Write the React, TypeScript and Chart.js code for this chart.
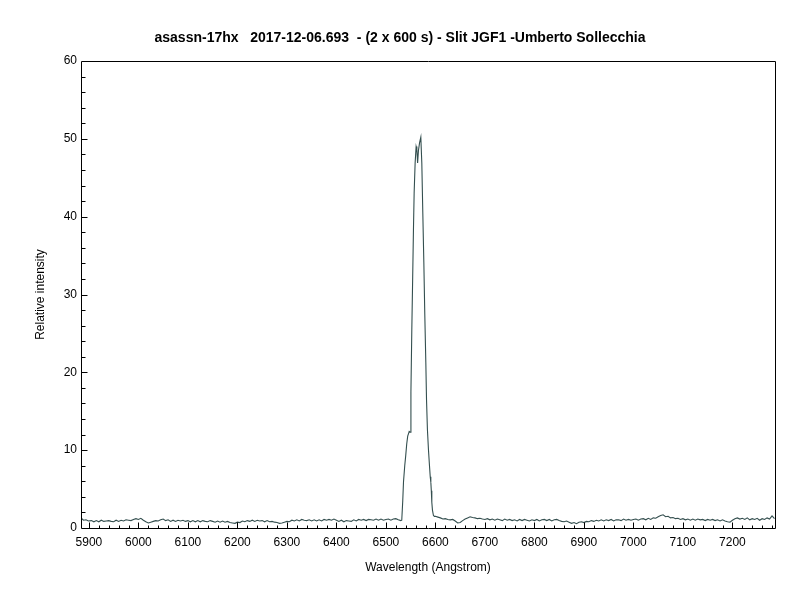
import { useEffect, useRef } from "react";
import { Chart, registerables } from "chart.js";

Chart.register(...registerables);

const TITLE = "asassn-17hx   2017-12-06.693  - (2 x 600 s) - Slit JGF1 -Umberto Sollecchia";
const X_LABEL = "Wavelength (Angstrom)";
const Y_LABEL = "Relative intensity";

const X_MIN = 5884;
const X_MAX = 7286;
const Y_MIN = 0;
const Y_MAX = 60;

const xTickValues = [5900, 6000, 6100, 6200, 6300, 6400, 6500, 6600, 6700, 6800, 6900, 7000, 7100, 7200];
const yTickValues = [0, 10, 20, 30, 40, 50, 60];

// Blue-side continuum (Angstrom / relative intensity)
const blueWavelength = [
  5884, 5889, 5894, 5899,
  5905, 5910, 5915, 5920, 5925, 5930, 5935, 5940, 5945, 5950, 5955, 5960, 5965, 5970, 5975, 5980, 5985, 5990, 5995,
  6000, 6005, 6010, 6015, 6020, 6025, 6030, 6035, 6040, 6045, 6050, 6055, 6060, 6065, 6070, 6075, 6080, 6085, 6090, 6095,
  6100, 6105, 6110, 6115, 6120, 6125, 6130, 6135, 6140, 6145, 6150, 6155, 6160, 6165, 6170, 6175, 6180, 6185, 6190, 6195,
  6200, 6205, 6210, 6215, 6220, 6225, 6230, 6235, 6240, 6245, 6250, 6255, 6260, 6265, 6270, 6275, 6280, 6285, 6290, 6295,
  6300, 6305, 6310, 6315, 6320, 6325, 6330, 6335, 6340, 6345, 6350, 6355, 6360, 6365, 6370, 6375, 6380, 6385, 6390, 6395,
  6400, 6405, 6410, 6415, 6420, 6425, 6430, 6435, 6440, 6445, 6450, 6455, 6460, 6465, 6470, 6475, 6480, 6485, 6490, 6495,
  6500, 6505, 6510, 6515, 6520, 6525, 6530,
];
const blueIntensity = [
  1.3, 1.0, 1.05, 0.9,
  0.95, 0.8, 0.95, 0.8, 1.0, 0.85, 0.9, 0.95, 0.85, 0.8, 1.0, 0.85, 1.0, 0.9, 1.05, 1.0, 0.95, 1.1, 1.2,
  1.1, 1.25, 1.0, 0.8, 0.65, 0.75, 0.85, 0.95, 0.9, 1.05, 1.15, 0.95, 1.05, 0.85, 1.0, 0.85, 1.0, 0.9, 1.0, 0.85,
  0.95, 0.8, 0.95, 0.8, 0.95, 0.8, 0.95, 0.85, 0.8, 0.95, 0.85, 0.75, 0.9, 0.75, 0.9, 0.75, 0.85, 0.7, 0.65, 0.6,
  0.75, 0.7, 0.9, 0.8, 0.95, 0.85, 1.0, 0.85, 1.0, 0.9, 0.95, 0.8, 0.95, 0.8, 0.85, 0.75, 0.7, 0.6, 0.65, 0.75,
  0.85, 0.8, 1.0, 0.9, 1.05, 0.9, 1.1, 1.0, 0.95, 1.05, 0.9, 1.05, 0.9, 1.05, 0.9, 1.1, 1.0, 1.1, 1.0, 1.15,
  1.0, 0.85, 1.0, 0.8, 0.95, 0.9, 0.85, 1.05, 0.9, 1.1, 1.0, 1.1, 0.95, 1.1, 1.05, 1.0, 1.15, 1.0, 1.15, 1.0,
  1.1, 1.15, 1.0, 1.15, 1.2, 1.05, 0.95,
];

// H-alpha emission line
const lineWavelength = [
  6532, 6534, 6535.5, 6538, 6540, 6542, 6544, 6546, 6547, 6549, 6550.5, 6552.3, 6554, 6555.6, 6557, 6559,
  6561, 6562.5, 6564, 6565.7, 6568, 6570.5, 6572.5, 6574.5, 6576.6, 6578.5, 6580.6, 6582, 6583.8, 6586,
  6588, 6589.5, 6590.7, 6591.7, 6592.7, 6594, 6596, 6598,
];
const lineIntensity = [
  1.0, 3.5, 5.9, 8.0, 9.3, 10.8, 11.8, 12.2, 12.4, 12.3, 17.5, 25.5, 32.0, 38.3, 43.0, 46.9,
  49.0, 48.6, 46.9, 48.5, 49.5, 50.2, 46.9, 40.5, 34.1, 27.5, 21.3, 16.5, 12.7, 10.0,
  8.0, 6.6, 5.9, 4.8, 3.3, 2.3, 1.6, 1.5,
];

// Red-side continuum
const redWavelength = [
  6600, 6605, 6610, 6615, 6620, 6625, 6630, 6635, 6640, 6645, 6650, 6655, 6660, 6665, 6670, 6675, 6680, 6685, 6690, 6695,
  6700, 6705, 6710, 6715, 6720, 6725, 6730, 6735, 6740, 6745, 6750, 6755, 6760, 6765, 6770, 6775, 6780, 6785, 6790, 6795,
  6800, 6805, 6810, 6815, 6820, 6825, 6830, 6835, 6840, 6845, 6850, 6855, 6860, 6865, 6870, 6875, 6880, 6885, 6890, 6895,
  6900, 6905, 6910, 6915, 6920, 6925, 6930, 6935, 6940, 6945, 6950, 6955, 6960, 6965, 6970, 6975, 6980, 6985, 6990, 6995,
  7000, 7005, 7010, 7015, 7020, 7025, 7030, 7035, 7040, 7045, 7050, 7055, 7060, 7065, 7070, 7075, 7080, 7085, 7090, 7095,
  7100, 7105, 7110, 7115, 7120, 7125, 7130, 7135, 7140, 7145, 7150, 7155, 7160, 7165, 7170, 7175, 7180, 7185, 7190, 7195,
  7200, 7205, 7210, 7215, 7220, 7225, 7230, 7235, 7240, 7245, 7250, 7255, 7260, 7265, 7270, 7275, 7280, 7285,
];
const redIntensity = [
  1.5, 1.4, 1.3, 1.15, 1.2, 1.1, 1.05, 1.1, 0.9, 0.65, 0.7, 0.95, 1.15, 1.3, 1.45, 1.35, 1.3, 1.2, 1.25, 1.15,
  1.1, 1.2, 1.05, 1.15, 1.0, 1.15, 1.05, 0.95, 1.15, 1.0, 1.1, 0.95, 1.05, 0.9, 1.1, 0.95, 1.1, 1.0, 0.9, 1.05,
  0.95, 1.1, 0.9, 1.05, 1.1, 0.95, 1.1, 0.9, 1.05, 1.1, 0.95, 0.85, 0.8, 0.9, 0.75, 0.6, 0.7, 0.55, 0.75, 0.8,
  0.7, 0.85, 0.8, 0.95, 0.85, 1.0, 0.9, 1.05, 0.9, 1.05, 0.95, 1.1, 0.9, 1.05, 1.05, 0.95, 1.15, 1.0, 1.1, 1.0,
  1.1, 1.15, 1.0, 1.15, 1.2, 1.05, 1.25, 1.1, 1.3, 1.25, 1.45, 1.6, 1.7, 1.45, 1.5, 1.3, 1.35, 1.2, 1.25, 1.1,
  1.2, 1.05, 1.15, 1.0, 1.15, 1.0, 1.15, 1.05, 1.1, 0.95, 1.1, 1.0, 1.1, 0.95, 1.05, 0.9, 1.05, 0.9, 0.8, 0.75,
  1.0, 1.2, 1.3, 1.15, 1.25, 1.1, 1.3, 1.05, 1.2, 1.1, 1.25, 1.0, 1.2, 1.1, 1.3, 1.15, 1.55, 1.2,
];

const wavelength = [...blueWavelength, ...lineWavelength, ...redWavelength];
const intensity = [...blueIntensity, ...lineIntensity, ...redIntensity];

const axesDecor = {
  id: "axesDecor",
  afterDraw(chart: any) {
    const { ctx, chartArea: a, scales } = chart;
    const xs = scales.x;
    const ys = scales.y;
    const L = Math.round(a.left) + 0.5;
    const R = Math.round(a.right) + 0.5;
    const T = Math.round(a.top) + 0.5;
    const B = Math.round(a.bottom) + 0.5;
    ctx.save();
    ctx.strokeStyle = "#000";
    ctx.lineWidth = 1;
    ctx.beginPath();
    ctx.rect(L, T, R - L, B - T);
    // x ticks (inward)
    for (let v = 5900; v <= X_MAX; v += 20) {
      const px = Math.round(xs.getPixelForValue(v)) + 0.5;
      const major = v % 100 === 0;
      ctx.moveTo(px, B);
      ctx.lineTo(px, B - (major ? 6 : 3));
    }
    // y ticks (inward)
    for (let v = Y_MIN + 2; v < Y_MAX; v += 2) {
      const py = Math.round(ys.getPixelForValue(v)) + 0.5;
      const major = v % 10 === 0;
      ctx.moveTo(L, py);
      ctx.lineTo(L + (major ? 6 : 4), py);
    }
    ctx.stroke();
    ctx.restore();
  },
};

export default function App() {
  const canvasRef = useRef<HTMLCanvasElement | null>(null);

  useEffect(() => {
    const canvas = canvasRef.current;
    if (!canvas) return;
    Chart.defaults.font.family = "'Liberation Sans', Arial, sans-serif";
    Chart.defaults.font.size = 12;
    Chart.defaults.color = "#000";

    const points = wavelength.map((w, i) => ({ x: w, y: intensity[i] }));

    const chart = new Chart(canvas, {
      type: "line",
      data: {
        datasets: [
          {
            data: points,
            borderColor: "#344f4f",
            borderWidth: 1.1,
            pointRadius: 0,
            tension: 0,
            fill: false,
            xAxisID: "x",
            yAxisID: "y",
          },
        ],
      },
      options: {
        responsive: false,
        animation: false,
        devicePixelRatio: 1,
        layout: { padding: { left: 0, right: 0, top: 0, bottom: 0 } },
        plugins: {
          legend: { display: false },
          tooltip: { enabled: false },
          title: {
            display: true,
            text: TITLE,
            color: "#000",
            font: { size: 14, weight: "bold" },
            padding: { top: 30, bottom: 14.2 },
          },
        },
        scales: {
          x: {
            type: "linear",
            min: X_MIN,
            max: X_MAX,
            afterBuildTicks: (s: any) => {
              s.ticks = xTickValues.map((v) => ({ value: v }));
            },
            afterFit: (s: any) => {
              s.height = 72;
            },
            ticks: {
              color: "#000",
              padding: 7,
              maxRotation: 0,
              autoSkip: false,
              callback: (v: any) => String(v),
            },
            grid: { display: false, drawTicks: false },
            border: { display: false },
            title: {
              display: true,
              text: X_LABEL,
              color: "#000",
              font: { size: 12 },
              padding: { top: 0, bottom: 25 },
            },
          },
          y: {
            type: "linear",
            position: "left",
            min: Y_MIN,
            max: Y_MAX,
            afterBuildTicks: (s: any) => {
              s.ticks = yTickValues.map((v) => ({ value: v }));
            },
            afterFit: (s: any) => {
              s.width = 81;
            },
            ticks: {
              color: "#000",
              padding: 4,
              callback: (v: any) => String(v),
            },
            grid: { display: false, drawTicks: false },
            border: { display: false },
            title: {
              display: true,
              text: Y_LABEL,
              color: "#000",
              font: { size: 12 },
              padding: { top: 33, bottom: 0 },
            },
          },
          yRight: {
            type: "linear",
            position: "right",
            display: true,
            min: Y_MIN,
            max: Y_MAX,
            afterFit: (s: any) => {
              s.width = 25;
            },
            ticks: { display: false },
            grid: { display: false, drawTicks: false },
            border: { display: false },
          },
        },
      },
      plugins: [axesDecor],
    });
    return () => chart.destroy();
  }, []);

  return (
    <div style={{ position: "absolute", left: 0, top: 0, width: 800, height: 600, background: "#fff" }}>
      <canvas ref={canvasRef} width={800} height={600} style={{ display: "block" }} />
    </div>
  );
}
